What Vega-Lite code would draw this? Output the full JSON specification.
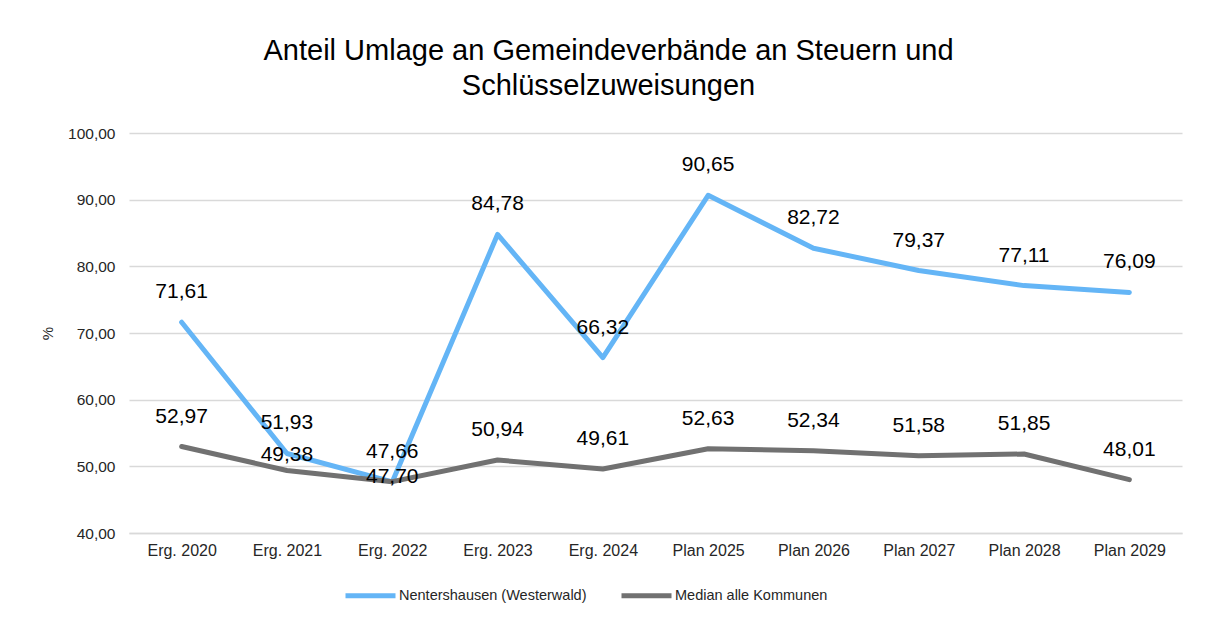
{
  "$schema": "https://vega.github.io/schema/vega-lite/v6.json",
  "autosize": {"type": "none"},
  "padding": {"left": 129, "top": 133, "right": 23, "bottom": 84},
  "width": 1053,
  "height": 400,
  "background": "white",
  "config": {
    "font": "Liberation Sans",
    "view": {"stroke": null},
    "locale": {"number": {"decimal": ",", "thousands": ".", "grouping": [3], "currency": ["", " €"]}}
  },
  "title": {
    "text": ["Anteil Umlage an Gemeindeverbände an Steuern und", "Schlüsselzuweisungen"],
    "fontSize": 29,
    "fontWeight": "normal",
    "color": "#000000",
    "lineHeight": 35,
    "anchor": "middle",
    "dx": -47,
    "offset": 25
  },
  "data": {
    "values": [
      {"jahr": "Erg. 2020", "serie": "Nentershausen (Westerwald)", "wert": 71.61},
      {"jahr": "Erg. 2021", "serie": "Nentershausen (Westerwald)", "wert": 51.93},
      {"jahr": "Erg. 2022", "serie": "Nentershausen (Westerwald)", "wert": 47.66},
      {"jahr": "Erg. 2023", "serie": "Nentershausen (Westerwald)", "wert": 84.78},
      {"jahr": "Erg. 2024", "serie": "Nentershausen (Westerwald)", "wert": 66.32},
      {"jahr": "Plan 2025", "serie": "Nentershausen (Westerwald)", "wert": 90.65},
      {"jahr": "Plan 2026", "serie": "Nentershausen (Westerwald)", "wert": 82.72},
      {"jahr": "Plan 2027", "serie": "Nentershausen (Westerwald)", "wert": 79.37},
      {"jahr": "Plan 2028", "serie": "Nentershausen (Westerwald)", "wert": 77.11},
      {"jahr": "Plan 2029", "serie": "Nentershausen (Westerwald)", "wert": 76.09},
      {"jahr": "Erg. 2020", "serie": "Median alle Kommunen", "wert": 52.97},
      {"jahr": "Erg. 2021", "serie": "Median alle Kommunen", "wert": 49.38},
      {"jahr": "Erg. 2022", "serie": "Median alle Kommunen", "wert": 47.70},
      {"jahr": "Erg. 2023", "serie": "Median alle Kommunen", "wert": 50.94},
      {"jahr": "Erg. 2024", "serie": "Median alle Kommunen", "wert": 49.61},
      {"jahr": "Plan 2025", "serie": "Median alle Kommunen", "wert": 52.63},
      {"jahr": "Plan 2026", "serie": "Median alle Kommunen", "wert": 52.34},
      {"jahr": "Plan 2027", "serie": "Median alle Kommunen", "wert": 51.58},
      {"jahr": "Plan 2028", "serie": "Median alle Kommunen", "wert": 51.85},
      {"jahr": "Plan 2029", "serie": "Median alle Kommunen", "wert": 48.01}
    ]
  },
  "encoding": {
    "x": {
      "field": "jahr",
      "type": "ordinal",
      "sort": null,
      "scale": {"type": "point", "padding": 0.5},
      "axis": {
        "title": null,
        "labelAngle": 0,
        "labelFontSize": 16,
        "labelColor": "#262626",
        "labelPadding": 9,
        "ticks": false,
        "domainColor": "#d9d9d9",
        "domainWidth": 1.5,
        "grid": false
      }
    },
    "y": {
      "field": "wert",
      "type": "quantitative",
      "scale": {"domain": [40, 100], "nice": false},
      "axis": {
        "title": "%",
        "titleFontSize": 15,
        "titleFontWeight": "normal",
        "titleColor": "#262626",
        "titlePadding": 12,
        "format": ".2f",
        "values": [40, 50, 60, 70, 80, 90, 100],
        "labelFontSize": 15.5,
        "labelColor": "#262626",
        "labelPadding": 14,
        "ticks": false,
        "domain": false,
        "gridColor": "#d9d9d9",
        "gridWidth": 1.5
      }
    }
  },
  "layer": [
    {
      "mark": {"type": "line", "strokeWidth": 5, "strokeCap": "round", "strokeJoin": "round"},
      "encoding": {
        "color": {
          "field": "serie",
          "type": "nominal",
          "scale": {"domain": ["Nentershausen (Westerwald)", "Median alle Kommunen"], "range": ["#64B5F6", "#717171"]},
          "legend": {
            "title": null,
            "orient": "none",
            "direction": "horizontal",
            "legendX": 214,
            "legendY": 435,
            "padding": 0,
            "symbolType": "stroke",
            "symbolSize": 2500,
            "symbolStrokeWidth": 5,
            "labelFontSize": 14.5,
            "labelColor": "#262626",
            "labelLimit": 0,
            "labelOffset": 1,
            "columnPadding": 24
          }
        },
        "detail": {"field": "serie"}
      }
    },
    {
      "transform": [{"filter": "!(datum.serie == 'Median alle Kommunen' && (datum.jahr == 'Erg. 2021' || datum.jahr == 'Erg. 2022'))"}],
      "mark": {"type": "text", "fontSize": 21, "dy": -30, "baseline": "middle", "color": "#000000"},
      "encoding": {"text": {"field": "wert", "type": "quantitative", "format": ".2f"}}
    },
    {
      "transform": [{"filter": "datum.serie == 'Median alle Kommunen' && datum.jahr == 'Erg. 2021'"}],
      "mark": {"type": "text", "fontSize": 21, "dy": -15, "baseline": "middle", "color": "#000000"},
      "encoding": {"text": {"field": "wert", "type": "quantitative", "format": ".2f"}}
    },
    {
      "transform": [{"filter": "datum.serie == 'Median alle Kommunen' && datum.jahr == 'Erg. 2022'"}],
      "mark": {"type": "text", "fontSize": 21, "dy": -5, "baseline": "middle", "color": "#000000"},
      "encoding": {"text": {"field": "wert", "type": "quantitative", "format": ".2f"}}
    }
  ]
}
